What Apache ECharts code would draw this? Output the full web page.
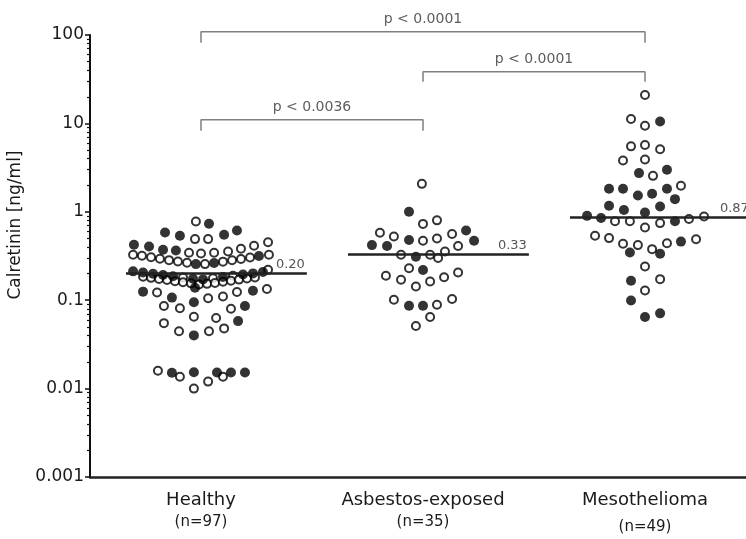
<!DOCTYPE html>
<html><head><meta charset="utf-8">
<script src="https://cdn.jsdelivr.net/npm/echarts@6/dist/echarts.min.js"></script>
<style>html,body{margin:0;padding:0;background:#fff}#c{width:746px;height:539px}</style>
</head><body><div id="c"></div>
<script>
// ---------------- data ----------------
const categories = ['Healthy', 'Asbestos-exposed', 'Mesothelioma'];
const groupSizes = ['(n=97)', '(n=35)', '(n=49)'];
const yTickLabels = ['0.001', '0.01', '0.1', '1', '10', '100'];
const medians = [0.20, 0.33, 0.87];
const medianLabels = ['0.20', '0.33', '0.87'];

// Calretinin values (ng/ml); offsets = horizontal jitter of each dot in category units; filled: 1 = black dot
const healthyValues = [0.777,0.732,0.583,0.535,0.491,0.491,0.549,0.614,
  0.423,0.405,0.372,0.365,0.344,0.338,0.344,0.356,0.382,0.413,0.452,
  0.326,0.318,0.306,0.294,0.284,0.274,0.265,0.256,0.256,0.264,0.273,0.283,0.293,0.304,0.316,0.326,
  0.212,0.206,0.199,0.193,0.187,0.181,0.175,0.172,0.177,0.183,0.189,0.195,0.201,0.208,0.221,
  0.184,0.179,0.174,0.169,0.164,0.160,0.155,0.151,0.153,0.157,0.162,0.166,0.171,0.176,0.181,0.138,
  0.125,0.122,0.107,0.105,0.110,0.124,0.128,0.134,
  0.095,0.086,0.081,0.086,0.080,
  0.065,0.063,0.058,0.055,
  0.048,0.0445,0.040,0.0445,
  0.0159,0.0151,0.0136,0.0153,0.0100,0.0120,0.0152,0.0136,0.0152,0.0152];
const healthyOffsets = [-0.023,0.036,-0.162,-0.095,-0.027,0.032,0.104,0.162,
  -0.302,-0.234,-0.171,-0.113,-0.054,0,0.059,0.122,0.180,0.239,0.302,
  -0.306,-0.266,-0.225,-0.185,-0.144,-0.104,-0.063,-0.023,0.018,0.059,0.099,0.140,0.180,0.221,0.261,0.306,
  -0.306,-0.261,-0.216,-0.171,-0.126,-0.081,-0.036,0.009,0.054,0.099,0.144,0.189,0.234,0.279,0.302,
  -0.261,-0.225,-0.189,-0.153,-0.117,-0.081,-0.045,-0.009,0.027,0.063,0.099,0.135,0.171,0.207,0.243,-0.027,
  -0.261,-0.198,-0.131,0.032,0.099,0.162,0.234,0.297,
  -0.032,-0.167,-0.095,0.198,0.135,
  -0.032,0.068,0.167,-0.167,
  0.104,-0.099,-0.032,0.036,
  -0.194,-0.131,-0.095,-0.032,-0.032,0.032,0.072,0.099,0.135,0.198];
const healthyFilled = [0,1,1,1,0,0,1,1,
  1,1,1,1,0,0,0,0,0,0,0,
  0,0,0,0,0,0,0,1,0,1,0,0,0,0,1,0,
  1,1,1,1,1,0,1,1,0,1,0,1,1,1,0,
  0,0,0,0,0,0,0,0,0,0,0,0,0,0,0,1,
  1,0,1,0,0,0,1,0,
  1,0,0,1,0,
  0,0,1,0,
  0,0,1,0,
  0,1,0,1,0,0,1,0,1,1];

const asbestosValues = [2.07,1.0,0.73,0.80,0.58,0.526,0.48,0.47,0.50,0.56,0.615,0.47,0.41,0.42,0.41,
  0.326,0.31,0.326,0.30,0.356,0.23,0.22,0.189,0.17,0.143,0.163,0.182,0.206,
  0.101,0.0865,0.0865,0.0887,0.103,0.0645,0.051];
const asbestosOffsets = [-0.005,-0.063,0,0.063,-0.194,-0.131,-0.063,0,0.063,0.131,0.194,0.230,0.158,-0.230,-0.162,
  -0.099,-0.032,0.032,0.068,0.099,-0.063,0,-0.167,-0.099,-0.032,0.032,0.095,0.158,
  -0.131,-0.063,0,0.063,0.131,0.032,-0.032];
const asbestosFilled = [0,1,0,0,0,0,1,0,0,0,1,1,0,1,1,
  0,1,0,0,0,0,1,0,0,0,0,0,0,
  0,1,1,0,0,0,0];

const mesoValues = [21,11.2,9.4,10.5,5.5,5.7,5.1,3.8,3.9,2.74,2.55,2.99,
  1.82,1.82,1.53,1.6,1.82,1.97,1.39,1.17,1.05,0.98,1.15,
  0.90,0.85,0.78,0.78,0.665,0.745,0.78,0.83,0.885,
  0.535,0.504,0.435,0.42,0.347,0.378,0.335,0.44,0.46,0.49,
  0.24,0.166,0.173,0.129,0.099,0.0645,0.071];
const mesoOffsets = [0,-0.063,0,0.068,-0.063,0,0.068,-0.099,0,-0.027,0.036,0.099,
  -0.162,-0.099,-0.032,0.032,0.099,0.162,0.135,-0.162,-0.095,0,0.068,
  -0.261,-0.198,-0.135,-0.068,0,0.068,0.135,0.198,0.266,
  -0.225,-0.162,-0.099,-0.032,-0.068,0.032,0.068,0.099,0.162,0.230,
  0,-0.063,0.068,0,-0.063,0,0.068];
const mesoFilled = [0,0,0,1,0,0,0,0,0,1,0,1,
  1,1,1,1,1,0,1,1,1,1,1,
  1,1,0,0,0,0,1,0,0,
  0,0,0,0,1,0,1,0,1,0,
  0,1,0,0,1,1,1];

// significance brackets: group pairs (1-based), text
const bracketPairs = [[1, 2], [2, 3], [1, 3]];
const bracketTexts = ['p < 0.0036', 'p < 0.0001', 'p < 0.0001'];

// ---------------- layout constants (annotation heights in ng/ml on the log axis) ----------------
const bracketTop = [10.98, 38.3, 108.7];
const bracketFoot = [8.25, 29.6, 81.6];
const bracketTextAt = [15.0, 52.4, 148.5];
const FONT = '"DejaVu Sans", "Liberation Sans", Arial, sans-serif';

const groups = [
  [healthyValues, healthyOffsets, healthyFilled],
  [asbestosValues, asbestosOffsets, asbestosFilled],
  [mesoValues, mesoOffsets, mesoFilled]
];
function dots(wantFilled) {
  const out = [];
  groups.forEach((g, gi) => {
    g[0].forEach((v, i) => {
      if (g[2][i] === wantFilled) out.push([gi + 1 + g[1][i], v]);
    });
  });
  return out;
}
const minorTicks = [];
for (let k = -3; k <= 1; k++) for (let m = 2; m <= 9; m++) minorTicks.push(+(m * Math.pow(10, k)).toPrecision(3));

const series = [];
series.push({
  type: 'scatter', name: 'medians', data: [], z: 1, silent: true, clip: false,
  markLine: {
    silent: true, animation: false, symbol: ['none', 'none'],
    lineStyle: { color: '#222', width: 2.5, type: 'solid' },
    label: { position: 'insideEndTop', color: '#555', fontSize: 13, fontFamily: FONT, distance: 2 },
    emphasis: { disabled: true },
    data: medians.map((m, i) => [
      { coord: [i + 1 - 0.338, m], label: { formatter: medianLabels[i] } },
      { coord: [i + 1 + 0.477, m] }
    ])
  }
});
bracketPairs.forEach((p, i) => {
  series.push({
    type: 'line', name: 'bracket' + i, clip: false, silent: true, symbol: 'none', animation: false,
    lineStyle: { color: '#808080', width: 1.5 },
    data: [[p[0], bracketFoot[i]], [p[0], bracketTop[i]], [p[1], bracketTop[i]], [p[1], bracketFoot[i]]]
  });
});
series.push({
  type: 'scatter', name: 'open', z: 3, symbol: 'circle', symbolSize: 8, animation: false,
  itemStyle: { color: '#fff', borderColor: '#000', borderWidth: 2 },
  data: dots(0)
});
series.push({
  type: 'scatter', name: 'filled', z: 4, symbol: 'circle', symbolSize: 10, animation: false,
  itemStyle: { color: '#000' },
  data: dots(1)
});
series.push({
  type: 'scatter', name: 'pLabels', z: 5, clip: false, silent: true, symbolSize: 1, animation: false,
  itemStyle: { color: 'rgba(0,0,0,0)' },
  label: { show: true, position: 'inside', formatter: p => p.data[2], color: '#333', fontSize: 14, fontFamily: FONT },
  data: bracketPairs.map((p, i) => [(p[0] + p[1]) / 2, bracketTextAt[i], bracketTexts[i]])
});

const option = {
  animation: false,
  backgroundColor: '#fff',
  grid: { left: 90, top: 35, width: 666, height: 442, outerBoundsMode: 'none', containLabel: false },
  xAxis: {
    type: 'value', min: 0.5, max: 3.5,
    axisLine: { show: true, onZero: false, lineStyle: { color: '#222', width: 2.5 } },
    axisTick: { show: false },
    splitLine: { show: false },
    axisLabel: {
      customValues: [1, 2, 3], margin: 12, color: '#1a1a1a', fontFamily: FONT,
      formatter: v => {
        const i = Math.round(v) - 1;
        return '{a|' + categories[i] + '}\n{' + (i === 2 ? 'c' : 'b') + '|' + groupSizes[i] + '}';
      },
      rich: {
        a: { fontSize: 18, lineHeight: 22, color: '#1a1a1a', fontFamily: FONT },
        b: { fontSize: 15, lineHeight: 23, color: '#1a1a1a', fontFamily: FONT },
        c: { fontSize: 15, lineHeight: 32, color: '#1a1a1a', fontFamily: FONT }
      }
    }
  },
  yAxis: [{
    type: 'log', logBase: 10, min: 0.001, max: 100,
    axisLine: { show: true, lineStyle: { color: '#111', width: 2 } },
    axisTick: { show: true, length: 5, lineStyle: { color: '#111', width: 1.5 } },
    axisLabel: {
      margin: 6, fontSize: 17, color: '#1a1a1a', fontFamily: FONT,
      formatter: v => yTickLabels[Math.round(Math.log10(v)) + 3]
    },
    splitLine: { show: false },
    name: 'Calretinin [ng/ml]', nameLocation: 'middle', nameGap: 50,
    nameTextStyle: { fontSize: 17, color: '#1a1a1a', fontFamily: FONT, padding: [0, 0, 0, 62] }
  }, {
    type: 'log', logBase: 10, min: 0.001, max: 100, position: 'left',
    axisLine: { show: false },
    axisTick: { show: true, length: 3, customValues: minorTicks, lineStyle: { color: '#111', width: 1.2 } },
    axisLabel: { show: false },
    splitLine: { show: false }
  }],
  series: series
};
const chart = echarts.init(document.getElementById('c'));
chart.setOption(option);
</script></body></html>
